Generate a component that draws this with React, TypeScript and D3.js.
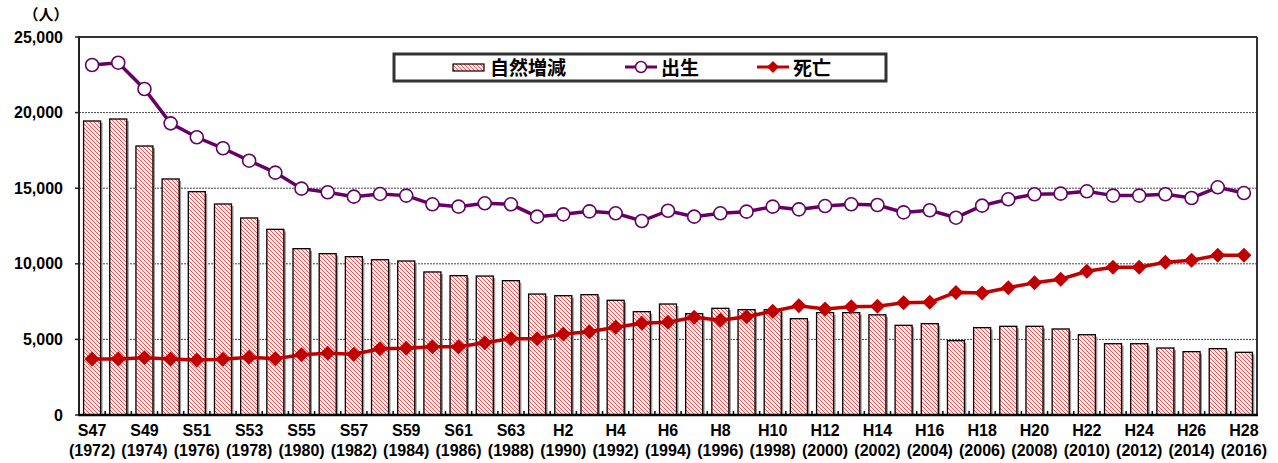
import React from "react";
import * as d3 from "d3";

const years = d3.range(1972, 2017);
const eraLabels = ["S47","S48","S49","S50","S51","S52","S53","S54","S55","S56","S57","S58","S59","S60","S61","S62","S63","H1","H2","H3","H4","H5","H6","H7","H8","H9","H10","H11","H12","H13","H14","H15","H16","H17","H18","H19","H20","H21","H22","H23","H24","H25","H26","H27","H28"];

const naturalChange = [19445,19577,17790,15610,14770,13955,13030,12280,11000,10670,10470,10270,10185,9460,9215,9190,8885,8000,7890,7960,7585,6835,7340,6700,7055,6965,6965,6370,6770,6770,6625,5930,6040,4915,5775,5865,5865,5690,5310,4715,4715,4430,4190,4385,4145];

const births = [23150,23300,21560,19290,18370,17640,16820,16030,14970,14730,14440,14620,14510,13935,13780,14000,13935,13117,13270,13468,13340,12830,13510,13117,13340,13450,13780,13600,13820,13935,13890,13400,13540,13050,13845,14265,14600,14640,14795,14510,14510,14600,14350,15060,14680];

const deaths = [3700,3700,3790,3700,3640,3680,3815,3725,3990,4080,4015,4385,4410,4520,4520,4780,5050,5050,5360,5510,5800,6065,6130,6460,6260,6500,6860,7230,7010,7165,7190,7430,7450,8110,8070,8420,8750,8975,9505,9770,9770,10100,10230,10560,10560];

const yTicks = [0, 5000, 10000, 15000, 20000, 25000];
const legendLabels = ["自然増減", "出生", "死亡"];

const W = 1278, H = 463;
const M = { left: 79, right: 1257, top: 37, bottom: 415 };

export default function App() {
  const x = d3.scaleBand<number>().domain(years).range([M.left, M.right]).paddingInner(0.35).paddingOuter(0.175);
  const y = d3.scaleLinear().domain([0, 25000]).range([M.bottom, M.top]);
  const cx = (yr: number) => (x(yr) as number) + x.bandwidth() / 2;
  const lineB = d3.line<number>().x((_, i) => cx(years[i])).y((v) => y(v));
  const fmt = d3.format(",");
  const jp = "'Noto Sans CJK JP', sans-serif";
  const narrow = "'Liberation Sans Narrow', 'Arial Narrow', 'Liberation Sans', Arial, sans-serif";
  const diamond = (px: number, py: number, r: number) => `M${px},${py - r}L${px + r},${py}L${px},${py + r}L${px - r},${py}Z`;

  return (
    <svg width={W} height={H} style={{ position: "absolute", left: 0, top: 0, background: "#fff" }}>
      <defs>
        <pattern id="hatch" patternUnits="userSpaceOnUse" width="4" height="4">
          <rect width="4" height="4" fill="#fbeaea" />
          <path d="M-1,-1L5,5M-1,3L1,5M3,-1L5,1" stroke="#e0494a" strokeWidth="0.9" />
        </pattern>
      </defs>
      {/* gridlines */}
      {yTicks.filter((t) => t > 0 && t < 25000).map((t) => (
        <line key={t} x1={M.left} x2={M.right} y1={y(t)} y2={y(t)} stroke="#444" strokeWidth={1} strokeDasharray="2,1" />
      ))}
      {/* plot frame top/right */}
      <line x1={M.left} x2={M.right} y1={M.top} y2={M.top} stroke="#333" strokeWidth={2} />
      <line x1={M.right} x2={M.right} y1={M.top} y2={M.bottom} stroke="#333" strokeWidth={2} />
      {/* bars */}
      {naturalChange.map((v, i) => {
        const bx = x(years[i]) as number;
        const bw = x.bandwidth();
        return (
          <g key={i}>
            <rect x={bx + 2} y={y(v) + 2} width={bw} height={y(0) - y(v) - 2} fill="#999" />
            <rect x={bx} y={y(v)} width={bw} height={y(0) - y(v)} fill="url(#hatch)" stroke="#000" strokeWidth={1.3} />
          </g>
        );
      })}
      {/* axes */}
      <line x1={M.left} x2={M.left} y1={M.top - 1} y2={M.bottom} stroke="#222" strokeWidth={2} />
      <line x1={M.left - 1} x2={M.right + 1} y1={M.bottom} y2={M.bottom} stroke="#000" strokeWidth={2.5} />
      {yTicks.map((t) => (
        <g key={t}>
          <line x1={M.left - 4} x2={M.left} y1={y(t)} y2={y(t)} stroke="#222" strokeWidth={1.5} />
          <text x={63} y={y(t)} dy="0.35em" textAnchor="end" fontFamily="'Liberation Sans', Arial, sans-serif" fontWeight="bold" fontSize={16} fill="#000">{fmt(t)}</text>
        </g>
      ))}
      <text x={46} y={20} textAnchor="middle" fontFamily={jp} fontWeight="bold" fontSize={15} fill="#000">（人）</text>
      {years.slice(1).map((yr) => (
        <line key={yr} x1={(x(yr) as number) - (x.step() - x.bandwidth()) / 2} x2={(x(yr) as number) - (x.step() - x.bandwidth()) / 2} y1={M.bottom} y2={M.bottom - 4} stroke="#000" strokeWidth={1.5} />
      ))}
      {years.map((yr, i) => i % 2 === 0 ? (
        <g key={yr} fontFamily={narrow} fontSize={16} fill="#000" fontWeight="bold">
          <text x={cx(yr)} y={436} textAnchor="middle">{eraLabels[i]}</text>
          <text x={cx(yr)} y={456} textAnchor="middle">({yr})</text>
        </g>
      ) : null)}
      {/* births */}
      <path d={lineB(births) as string} fill="none" stroke="#660066" strokeWidth={3.5} />
      {births.map((v, i) => (
        <circle key={i} cx={cx(years[i])} cy={y(v)} r={6.5} fill="#fff" stroke="#660066" strokeWidth={1.6} />
      ))}
      {/* deaths */}
      <path d={lineB(deaths) as string} fill="none" stroke="#c00000" strokeWidth={3.5} />
      {deaths.map((v, i) => (
        <path key={i} d={diamond(cx(years[i]), y(v), 7.5)} fill="#c00000" />
      ))}
      {/* legend */}
      <rect x={394} y={54} width={492} height={27} fill="#fff" stroke="#333" strokeWidth={3} />
      <rect x={453} y={64} width={31} height={7} fill="url(#hatch)" stroke="#000" strokeWidth={1.2} />
      <text x={490} y={68} dy="0.36em" fontFamily={jp} fontWeight="bold" fontSize={19} fill="#000">{legendLabels[0]}</text>
      <line x1={625} x2={657} y1={67} y2={67} stroke="#660066" strokeWidth={3} />
      <circle cx={641} cy={67} r={5.5} fill="#fff" stroke="#660066" strokeWidth={1.5} />
      <text x={661} y={68} dy="0.36em" fontFamily={jp} fontWeight="bold" fontSize={19} fill="#000">{legendLabels[1]}</text>
      <line x1={757} x2={789} y1={67} y2={67} stroke="#c00000" strokeWidth={3} />
      <path d={diamond(773, 67, 6)} fill="#c00000" />
      <text x={793} y={68} dy="0.36em" fontFamily={jp} fontWeight="bold" fontSize={19} fill="#000">{legendLabels[2]}</text>
    </svg>
  );
}
